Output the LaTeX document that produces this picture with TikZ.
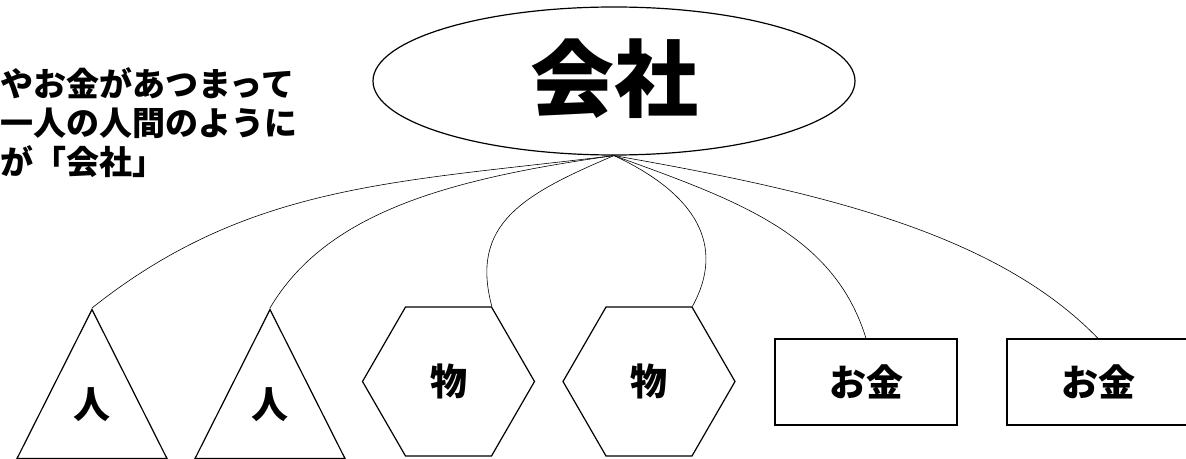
\documentclass[tikz,border=0pt]{standalone}
\usepackage{fontspec}
\newfontfamily\jp{Noto Sans CJK JP}
\usetikzlibrary{shapes.geometric}
\tikzset{
    bigjp/.style={font=\jp\bfseries\fontsize{84pt}{84pt}\selectfont},
    midjp/.style={font=\jp\bfseries\fontsize{37pt}{40pt}\selectfont},
    smalljp/.style={font=\jp\bfseries\fontsize{33pt}{39pt}\selectfont},
}
\begin{document}
\begin{tikzpicture}[x=1pt,y=1pt]
    \useasboundingbox (0,0) rectangle (1186,458);
    \node[ellipse,draw,line width=1.2pt,minimum width=482pt,minimum height=148pt,inner sep=0,bigjp] (kaisha) at (614,377) {\raisebox{12pt}{会社}};
    \node[anchor=west,align=left,inner sep=0,smalljp] (setsumei) at (0,335) {やお金があつまって\\一人の人間のように\\が「会社」};
    \begin{scope}[every node/.style={draw,line width=1.2pt,inner sep=0,midjp}]
    \node[isosceles triangle,isosceles triangle stretches,shape border rotate=90,minimum width=150pt,minimum height=149pt,anchor=apex] (hito1) at (92,150) {\raisebox{22pt}{人}};
    \node[isosceles triangle,isosceles triangle stretches,shape border rotate=90,minimum width=150pt,minimum height=149pt,anchor=apex] (hito2) at (270,150) {\raisebox{22pt}{人}};
    \node[regular polygon,regular polygon sides=6,minimum size=172pt] (mono1) at (448.5,76.5) {物};
    \node[regular polygon,regular polygon sides=6,minimum size=172pt] (mono2) at (649,76.5) {物};
    \node[rectangle,minimum width=182pt,minimum height=86pt] (okane1) at (866,76) {お金};
    \node[rectangle,minimum width=182pt,minimum height=86pt] (okane2) at (1098,76) {お金};
    \end{scope}
    \begin{scope}[every edge/.style={draw=black,line width=0.6pt}]
    \path (kaisha.south) edge[out=187,in=38.5,out distance=220pt,in distance=200pt] (hito1.apex);
    \path (kaisha.south) edge[out=188,in=59.4,out distance=170pt,in distance=110pt] (hito2.apex);
    \path (kaisha.south) edge[out=203,in=105,out distance=100pt,in distance=85pt] (mono1.60);
    \path (kaisha.south) edge[out=335,in=61,out distance=90pt,in distance=70pt] (mono2.60);
    \path (kaisha.south) edge[out=340,in=107,out distance=130pt,in distance=110pt] (okane1.north);
    \path (kaisha.south) edge[out=350,in=134,out distance=200pt,in distance=150pt] (okane2.north);
    \end{scope}
\end{tikzpicture}
\end{document}
